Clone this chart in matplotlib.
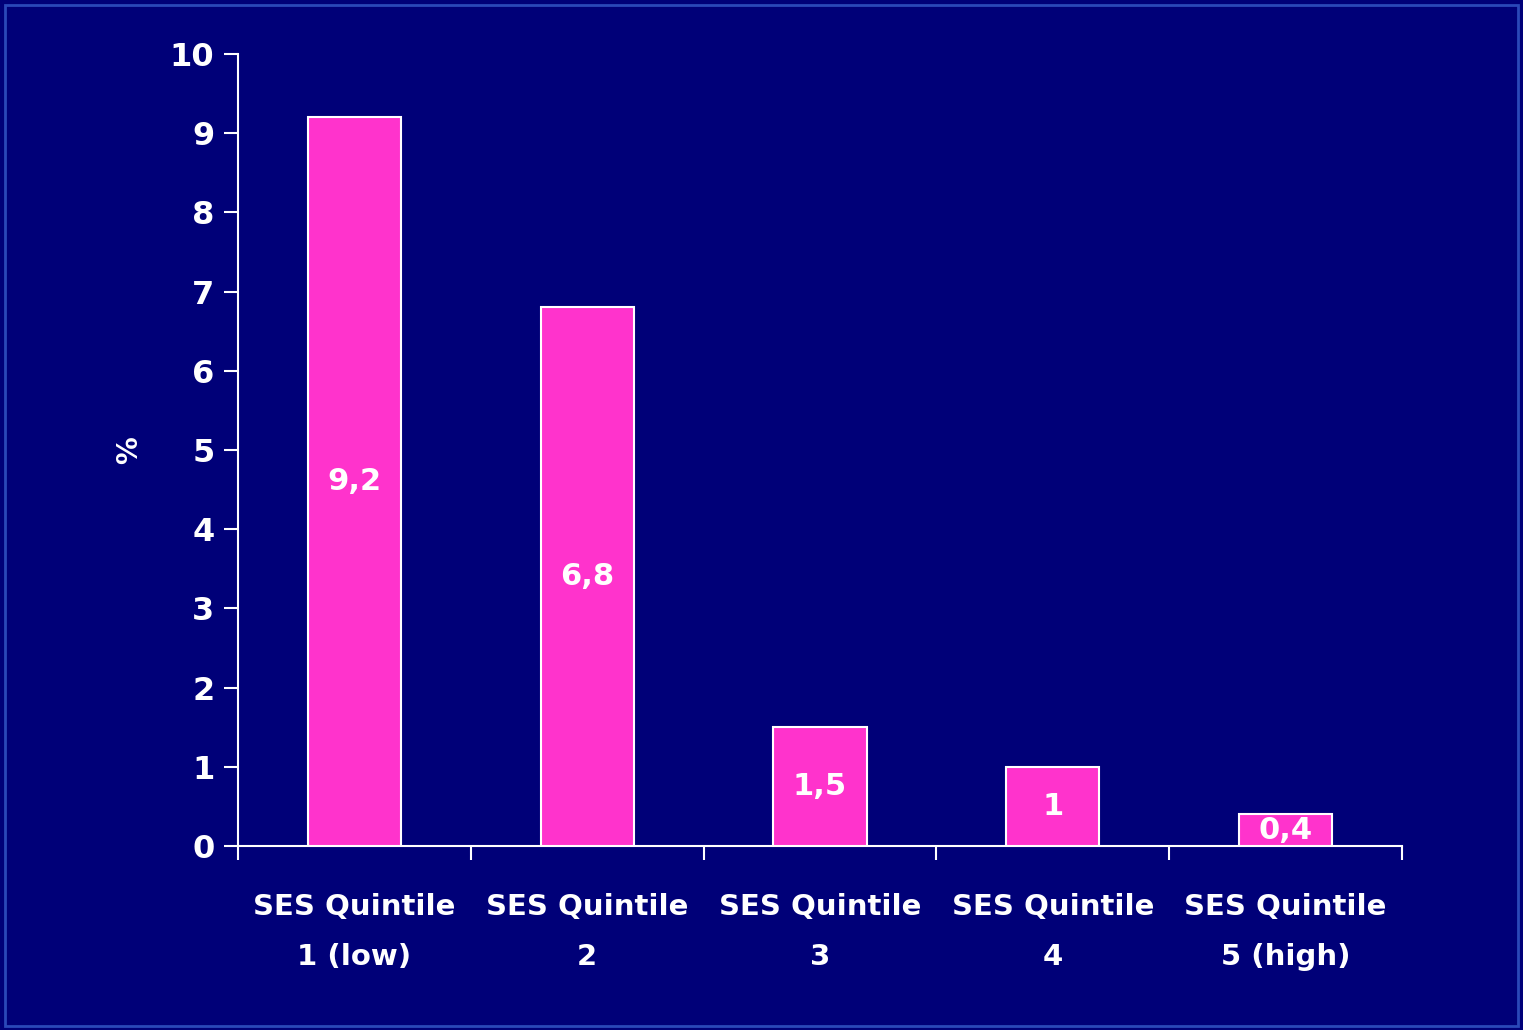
import matplotlib
from matplotlib import pyplot as plt
from matplotlib.patches import Rectangle

categories = ["SES Quintile\n1 (low)", "SES Quintile\n2", "SES Quintile\n3",
              "SES Quintile\n4", "SES Quintile\n5 (high)"]
values = [9.2, 6.8, 1.5, 1.0, 0.4]
value_labels = ["9,2", "6,8", "1,5", "1", "0,4"]
yticks = list(range(0, 11))

navy = "#000078"
pink = "#FF33CC"

matplotlib.rcParams.update({'font.family': 'DejaVu Sans', 'font.weight': 'bold'})

fig = plt.figure(figsize=(15.23, 10.30), dpi=100, facecolor=navy)
fig.patches.append(Rectangle((0.003, 0.004), 0.994, 0.991, transform=fig.transFigure,
                             fill=False, edgecolor="#2a48b8", linewidth=2))

ax = fig.add_axes([238/1523, 184/1030, 1164/1523, 792/1030])
ax.set_facecolor(navy)

x = list(range(len(values)))
ax.bar(x, values, width=0.40, color=pink, edgecolor="white", linewidth=1.5, zorder=3)

for xi, v, lab in zip(x, values, value_labels):
    ax.text(xi, v / 2, lab, ha="center", va="center", color="white",
            fontsize=22, fontweight="bold", zorder=4)

ax.set_xlim(-0.5, 4.5)
ax.set_ylim(0, 10)
ax.set_yticks(yticks)
ax.set_yticklabels([str(t) for t in yticks])

# major ticks sit between the bars, labels sit under the bars
ax.set_xticks([i - 0.5 for i in range(len(values) + 1)])
ax.set_xticklabels([])
ax.set_xticks(x, minor=True)
ax.set_xticklabels(categories, minor=True, linespacing=2.0)
ax.tick_params(axis="x", which="minor", length=0, pad=34, colors="white", labelsize=21)
ax.tick_params(axis="x", which="major", length=10, width=1.5, color="white")
ax.tick_params(axis="y", length=10, width=1.5, color="white", labelcolor="white",
               labelsize=23, pad=7)

for side in ["top", "right"]:
    ax.spines[side].set_visible(False)
for side in ["left", "bottom"]:
    ax.spines[side].set_color("white")
    ax.spines[side].set_linewidth(1.5)

ax.set_ylabel("%", color="white", fontsize=20, fontweight="bold", labelpad=19)

fig.savefig("out.png", dpi=100, facecolor=navy)
